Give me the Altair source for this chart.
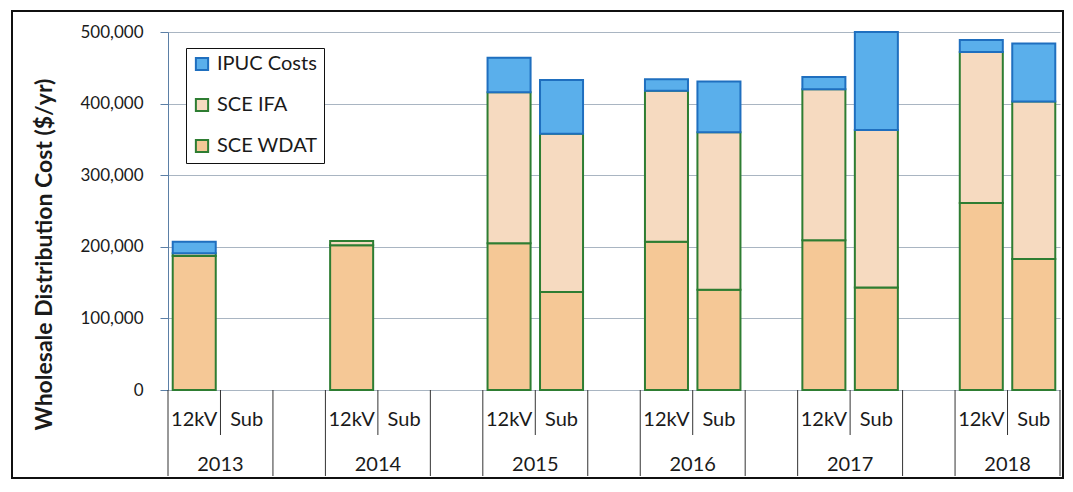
import altair as alt
import pandas as pd

years = ["2013", "2014", "2015", "2016", "2017", "2018"]
feeds = ["12kV", "Sub"]
series = ["IPUC Costs", "SCE IFA", "SCE WDAT"]

wdat_12kv = [187000, 202000, 205000, 207000, 209000, 261000]
ifa_12kv = [4000, 6000, 211000, 211000, 211000, 211000]
ipuc_12kv = [16000, 0, 48000, 16000, 17000, 17000]
wdat_sub = [0, 0, 137000, 140000, 143000, 183000]
ifa_sub = [0, 0, 221000, 220000, 220000, 220000]
ipuc_sub = [0, 0, 75000, 71000, 137000, 81000]

y_ticks = [0, 100000, 200000, 300000, 400000, 500000]

fill_colors = ["#5AAFEB", "#F6DAC0", "#F5C896"]
stroke_colors = ["#1F6FBF", "#2E7D32", "#2E7D32"]

FONT = "Lato"

# category slots (with blank gap slots between years, as in the Excel multi-level axis)
slots = []
for i, yr in enumerate(years):
    slots += [f"{yr} 12kV", f"{yr} Sub"]
    if i < len(years) - 1:
        slots.append(f"gap {i}")

rows = []
vals = {
    "12kV": {"SCE WDAT": wdat_12kv, "SCE IFA": ifa_12kv, "IPUC Costs": ipuc_12kv},
    "Sub": {"SCE WDAT": wdat_sub, "SCE IFA": ifa_sub, "IPUC Costs": ipuc_sub},
}
order_map = {"SCE WDAT": 0, "SCE IFA": 1, "IPUC Costs": 2}
for i, yr in enumerate(years):
    for fd in feeds:
        for s in ["SCE WDAT", "SCE IFA", "IPUC Costs"]:
            v = vals[fd][s][i]
            if v > 0:
                rows.append({"slot": f"{yr} {fd}", "series": s, "value": v, "ord": order_map[s]})
bars_df = pd.DataFrame(rows)

lab_df = pd.DataFrame([{"slot": f"{yr} {fd}", "label": fd} for yr in years for fd in feeds])
year_df = pd.DataFrame([{"slot": f"{yr} Sub", "label": yr} for yr in years])
left_df = pd.DataFrame([{"slot": f"{yr} 12kV"} for yr in years])
right_df = pd.DataFrame([{"slot": f"{yr} Sub"} for yr in years])

xscale = alt.Scale(domain=slots, paddingInner=0, paddingOuter=0)

bars = alt.Chart(bars_df).mark_bar(width=alt.RelativeBandSize(0.82), strokeWidth=2).encode(
    x=alt.X("slot:N", scale=xscale, axis=None, sort=slots),
    y=alt.Y(
        "value:Q",
        stack="zero",
        scale=alt.Scale(domain=[0, 500000], nice=False),
        axis=alt.Axis(
            values=y_ticks,
            format=",.0f",
            title="Wholesale Distribution Cost ($/yr)",
            titleFontSize=23,
            titleFontWeight="bold",
            titleFont=FONT,
            titleColor="#1a1a1a",
            titlePadding=23,
            titleY=222,
            labelFont=FONT,
            labelFontSize=17,
            labelColor="#1a1a1a",
            labelPadding=17,
            tickSize=8,
            tickColor="#5b7fa6",
            domainColor="#5b7fa6",
            gridColor="#a9b5c2",
            grid=True,
        ),
    ),
    fill=alt.Fill(
        "series:N",
        scale=alt.Scale(domain=series, range=fill_colors),
        legend=alt.Legend(title=None),
    ),
    stroke=alt.Stroke(
        "series:N",
        scale=alt.Scale(domain=series, range=stroke_colors),
        legend=alt.Legend(title=None),
    ),
    order=alt.Order("ord:Q"),
)

full_left = alt.Chart(left_df).mark_rule(color="#333333", strokeWidth=1).encode(
    x=alt.X("slot:N", scale=xscale, axis=None, bandPosition=0),
    y=alt.value(358),
    y2=alt.value(444),
)
full_right = alt.Chart(right_df).mark_rule(color="#333333", strokeWidth=1).encode(
    x=alt.X("slot:N", scale=xscale, axis=None, bandPosition=1),
    y=alt.value(358),
    y2=alt.value(444),
)
short_mid = alt.Chart(right_df).mark_rule(color="#333333", strokeWidth=1).encode(
    x=alt.X("slot:N", scale=xscale, axis=None, bandPosition=0),
    y=alt.value(358),
    y2=alt.value(403),
)
feed_text = alt.Chart(lab_df).mark_text(font=FONT, fontSize=20, baseline="middle", color="#1a1a1a").encode(
    x=alt.X("slot:N", scale=xscale, axis=None),
    y=alt.value(388),
    text="label:N",
)
year_text = alt.Chart(year_df).mark_text(font=FONT, fontSize=20, baseline="middle", color="#1a1a1a").encode(
    x=alt.X("slot:N", scale=xscale, axis=None, bandPosition=0),
    y=alt.value(433),
    text="label:N",
)
frame = alt.Chart(year_df).mark_rect(filled=False, stroke="#111111", strokeWidth=1.5).encode(
    x=alt.value(-156),
    x2=alt.value(895),
    y=alt.value(-21),
    y2=alt.value(446),
)

chart = (
    alt.layer(bars, full_left, full_right, short_mid, feed_text, year_text, frame)
    .properties(
        width=892,
        height=358,
        padding={"left": 160, "top": 24, "right": 5, "bottom": 90},
        autosize=alt.AutoSizeParams(type="none"),
    )
    .configure_view(strokeWidth=0)
    .configure_legend(
        orient="none",
        legendX=18,
        legendY=16,
        fillColor="white",
        strokeColor="#111111",
        padding=6,
        symbolType="square",
        symbolSize=150,
        symbolStrokeWidth=2,
        labelFont=FONT,
        labelFontSize=20,
        labelColor="#1a1a1a",
        labelOffset=5,
        rowPadding=19,
        labelLimit=200,
    )
)

chart.save("out.html", embed_options={"renderer": "svg", "actions": False})
